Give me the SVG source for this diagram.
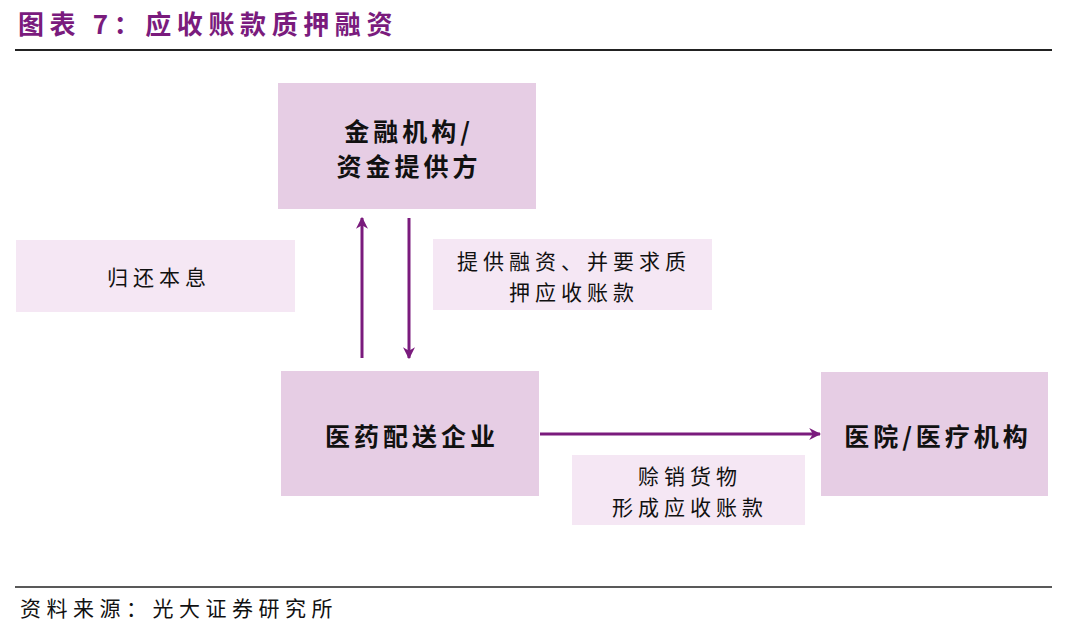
<svg xmlns="http://www.w3.org/2000/svg" width="1080" height="629" viewBox="0 0 1080 629">
<style>
.t{font-family:"Noto Sans CJK SC","Liberation Sans",sans-serif;fill:#111;text-anchor:middle}
.b{font-weight:bold;font-size:25px;letter-spacing:4px}
.l{font-size:21px;letter-spacing:5px}
.box{fill:#E6CDE4}
.lbl{fill:#F5E7F4}
.c{stroke:#7A1B7D;stroke-width:3;fill:none;marker-end:url(#ah)}
</style>
<defs>
<marker id="ah" viewBox="0 0 10 10" refX="9" refY="5" markerWidth="4" markerHeight="4" orient="auto" markerUnits="strokeWidth">
<path d="M0,0 L10,5 L0,10 L3,5 Z" fill="#7A1B7D"/>
</marker>
</defs>
<rect width="1080" height="629" fill="#fff"/>
<text x="18" y="34" style="font-family:'Noto Sans CJK SC',sans-serif;font-size:26px;fill:#7A1B7D;font-weight:bold;letter-spacing:5.6px">图表 7：应收账款质押融资</text>
<line x1="15" y1="50" x2="1052" y2="50" stroke="#222" stroke-width="2"/>
<g id="bank">
<rect class="box" x="278" y="83" width="258" height="126"/>
<text class="t b" x="409" y="141">金融机构/</text>
<text class="t b" x="409" y="176">资金提供方</text>
</g>
<g id="repay">
<rect class="lbl" x="16" y="240" width="279" height="72"/>
<text class="t l" x="159" y="285">归还本息</text>
</g>
<g id="finance">
<rect class="lbl" x="433" y="239" width="279" height="71"/>
<text class="t l" x="574" y="269">提供融资、并要求质</text>
<text class="t l" x="574" y="300">押应收账款</text>
</g>
<g id="distributor">
<rect class="box" x="281" y="371" width="258" height="125"/>
<text class="t b" x="412" y="446">医药配送企业</text>
</g>
<g id="hospital">
<rect class="box" x="821" y="372" width="227" height="124"/>
<text class="t b" x="938" y="446">医院/医疗机构</text>
</g>
<g id="credit">
<rect class="lbl" x="572" y="455" width="233" height="70"/>
<text class="t l" x="690" y="484">赊销货物</text>
<text class="t l" x="690" y="515">形成应收账款</text>
</g>
<g id="connectors">
<line class="c" x1="362" y1="358" x2="362" y2="218"/>
<line class="c" x1="409" y1="218" x2="409" y2="358"/>
<line class="c" x1="540" y1="434" x2="820" y2="434"/>
</g>
<line x1="15" y1="587" x2="1052" y2="587" stroke="#222" stroke-width="1.5"/>
<text x="20" y="616" style="font-family:'Noto Sans CJK SC',sans-serif;font-size:21px;fill:#111;letter-spacing:5.5px">资料来源：光大证券研究所</text>
</svg>
